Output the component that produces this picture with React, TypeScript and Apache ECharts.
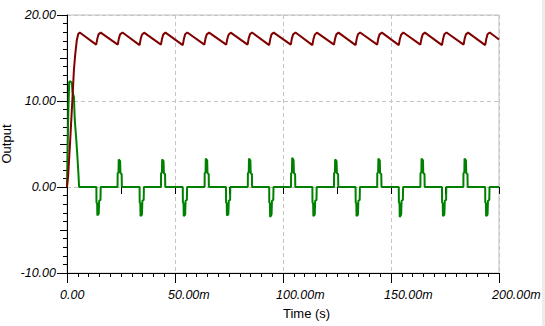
import React, { useEffect, useRef } from "react";
import * as echarts from "echarts";

// time in ms, output value
const X_TICKS_MS = [0, 50, 100, 150, 200];
const Y_TICKS = [-10, 0, 10, 20];

const redSeries: [number, number][] = [
  [0, 0], [0.5, 1.2], [1.5, 5.5], [2.5, 10.2], [3.2, 13.6], [3.8, 15.4], [4.5, 17.0], [5.2, 17.8], [5.9, 17.97],
  [13.5, 16.55], [14.0, 17.2], [14.6, 17.75], [15.6, 17.95],
  [23.5, 16.55], [24.0, 17.25], [24.6, 17.75], [25.7, 17.96],
  [33.6, 16.5], [34.1, 17.2], [34.7, 17.7], [35.7, 17.95],
  [43.5, 16.55], [44.0, 17.25], [44.6, 17.75], [45.6, 17.95],
  [53.6, 16.5], [54.1, 17.2], [54.7, 17.75], [55.7, 17.96],
  [63.6, 16.55], [64.1, 17.25], [64.7, 17.75], [65.8, 17.95],
  [73.7, 16.55], [74.2, 17.2], [74.8, 17.7], [75.8, 17.95],
  [83.6, 16.55], [84.1, 17.25], [84.7, 17.75], [85.7, 17.96],
  [93.6, 16.5], [94.1, 17.2], [94.7, 17.75], [95.7, 17.95],
  [103.6, 16.55], [104.1, 17.25], [104.7, 17.75], [105.8, 17.96],
  [113.6, 16.5], [114.1, 17.2], [114.7, 17.7], [115.7, 17.95],
  [123.6, 16.55], [124.1, 17.25], [124.7, 17.75], [125.7, 17.95],
  [133.6, 16.5], [134.1, 17.2], [134.7, 17.75], [135.7, 17.96],
  [143.6, 16.55], [144.1, 17.25], [144.7, 17.75], [145.8, 17.95],
  [153.6, 16.5], [154.1, 17.2], [154.7, 17.7], [155.7, 17.96],
  [163.6, 16.55], [164.1, 17.25], [164.7, 17.75], [165.7, 17.95],
  [173.6, 16.5], [174.1, 17.2], [174.7, 17.75], [175.7, 17.96],
  [183.6, 16.55], [184.1, 17.25], [184.7, 17.75], [185.7, 17.95],
  [193.6, 16.5], [194.1, 17.2], [194.7, 17.75], [195.7, 17.96],
  [200, 17.15],
];

const greenSeries: [number, number][] = [
  [0, 0], [0.2, 3.0], [0.6, 8.5], [1.0, 12.2], [1.5, 12.3], [2.2, 12.1], [2.6, 11.0], [3.2, 10.5],
  [3.6, 7.8], [4.3, 5.5], [4.8, 3.6], [5.3, 1.5], [5.6, 0],
  [13.6, 0], [13.65, -1.8], [13.95, -1.9], [14.05, -3.3], [14.7, -3.1], [14.9, -1.6], [15.5, -1.5], [15.6, 0],
  [23.4, 0], [23.45, 1.6], [23.85, 1.7], [23.95, 3.2], [24.6, 3.0], [24.75, 1.6], [25.3, 1.5], [25.4, 0],
  [33.6, 0], [33.65, -1.8], [33.95, -1.9], [34.05, -3.4], [34.7, -3.2], [34.9, -1.6], [35.5, -1.5], [35.6, 0],
  [43.5, 0], [43.55, 1.6], [43.95, 1.7], [44.05, 3.2], [44.7, 3.0], [44.85, 1.6], [45.4, 1.5], [45.5, 0],
  [53.6, 0], [53.65, -1.8], [53.95, -1.9], [54.05, -3.4], [54.7, -3.2], [54.9, -1.6], [55.5, -1.5], [55.6, 0],
  [63.7, 0], [63.75, 1.6], [64.15, 1.7], [64.25, 3.3], [64.9, 3.1], [65.05, 1.6], [65.6, 1.5], [65.7, 0],
  [73.6, 0], [73.65, -1.8], [73.95, -1.9], [74.05, -3.3], [74.7, -3.2], [74.9, -1.6], [75.5, -1.5], [75.6, 0],
  [83.7, 0], [83.75, 1.6], [84.15, 1.7], [84.25, 3.3], [84.9, 3.1], [85.05, 1.6], [85.6, 1.5], [85.7, 0],
  [93.6, 0], [93.65, -1.8], [93.95, -1.9], [94.05, -3.5], [94.7, -3.2], [94.9, -1.6], [95.5, -1.5], [95.6, 0],
  [103.7, 0], [103.75, 1.6], [104.15, 1.7], [104.25, 3.4], [104.9, 3.1], [105.05, 1.6], [105.6, 1.5], [105.7, 0],
  [113.6, 0], [113.65, -1.8], [113.95, -1.9], [114.05, -3.4], [114.7, -3.2], [114.9, -1.6], [115.5, -1.5], [115.6, 0],
  [123.6, 0], [123.65, 1.6], [124.05, 1.7], [124.15, 3.2], [124.8, 3.0], [124.95, 1.6], [125.5, 1.5], [125.6, 0],
  [133.6, 0], [133.65, -1.8], [133.95, -1.9], [134.05, -3.4], [134.7, -3.2], [134.9, -1.6], [135.5, -1.5], [135.6, 0],
  [143.6, 0], [143.65, 1.6], [144.05, 1.7], [144.15, 3.3], [144.8, 3.1], [144.95, 1.6], [145.5, 1.5], [145.6, 0],
  [153.6, 0], [153.65, -1.8], [153.95, -1.9], [154.05, -3.5], [154.7, -3.2], [154.9, -1.6], [155.5, -1.5], [155.6, 0],
  [163.6, 0], [163.65, 1.6], [164.05, 1.7], [164.15, 3.3], [164.8, 3.1], [164.95, 1.6], [165.5, 1.5], [165.6, 0],
  [173.6, 0], [173.65, -1.8], [173.95, -1.9], [174.05, -3.4], [174.7, -3.2], [174.9, -1.6], [175.5, -1.5], [175.6, 0],
  [183.5, 0], [183.55, 1.6], [183.95, 1.7], [184.05, 3.3], [184.7, 3.1], [184.85, 1.6], [185.4, 1.5], [185.5, 0],
  [193.6, 0], [193.65, -1.8], [193.95, -1.9], [194.05, -3.4], [194.7, -3.2], [194.9, -1.6], [195.5, -1.5], [195.6, 0],
  [200, 0],
];

const X_NAME = "Time (s)";
const Y_NAME = "Output";

const FONT = "'Liberation Sans', Arial, sans-serif";

function fmtX(v: number): string {
  return v === 0 ? "0.00" : `${v.toFixed(2)}m`;
}

export default function App() {
  const ref = useRef<HTMLDivElement>(null);
  useEffect(() => {
    if (!ref.current) return;
    const chart = echarts.init(ref.current, undefined, { renderer: "svg" });
    const xMin = X_TICKS_MS[0];
    const xMax = X_TICKS_MS[X_TICKS_MS.length - 1];
    const xInt = X_TICKS_MS[1] - X_TICKS_MS[0];
    const yMin = Y_TICKS[0];
    const yMax = Y_TICKS[Y_TICKS.length - 1];
    const yInt = Y_TICKS[1] - Y_TICKS[0];
    const labelStyle = {
      color: "#000",
      fontFamily: FONT,
      fontSize: 12.5,
      fontStyle: "italic" as const,
    };
    chart.setOption({
      animation: false,
      backgroundColor: "#fff",
      grid: {
        left: 67,
        right: 46,
        top: 15,
        bottom: 53,
        containLabel: false,
        outerBoundsMode: "none",
        show: true,
        borderColor: "#c0c0c0",
        borderWidth: 1,
        backgroundColor: "transparent",
      },
      graphic: [
        {
          type: "rect",
          shape: { x: 542, y: 0, width: 3, height: 326 },
          style: { fill: "#ececec" },
          silent: true,
        },
      ],
      xAxis: [
        {
          type: "value",
          min: xMin,
          max: xMax,
          interval: xInt,
          position: "bottom",
          name: X_NAME,
          nameLocation: "middle",
          nameGap: 34,
          nameMoveOverlap: false,
          nameTextStyle: {
            color: "#000",
            fontFamily: FONT,
            fontSize: 13,
            align: "left",
          },
          axisLine: { show: true, onZero: false, lineStyle: { color: "#000", width: 1 } },
          axisTick: { show: true, inside: false, length: 10, lineStyle: { color: "#000" } },
          minorTick: { show: true, splitNumber: 10, length: 4, lineStyle: { color: "#000" } },
          splitLine: {
            show: true,
            lineStyle: { color: "#c4c4c4", type: [4, 3], width: 1 },
          },
          axisLabel: {
            margin: 15,
            align: "right",
            hideOverlap: false,
            formatter: (v: number) => `{a|${fmtX(v)}}`,
            rich: { a: { ...labelStyle, width: 7, align: "left" } },
            ...labelStyle,
          },
        },
        {
          type: "value",
          min: xMin,
          max: xMax,
          interval: xInt / 2,
          position: "bottom",
          axisLine: { show: false },
          axisTick: { show: true, inside: false, length: 7, lineStyle: { color: "#000" } },
          axisLabel: { show: false },
          splitLine: { show: false },
        },
      ],
      yAxis: [
        {
          type: "value",
          min: yMin,
          max: yMax,
          interval: yInt,
          position: "left",
          name: Y_NAME,
          nameLocation: "middle",
          nameRotate: 90,
          nameGap: 54,
          nameMoveOverlap: false,
          nameTextStyle: { color: "#000", fontFamily: FONT, fontSize: 13 },
          axisLine: { show: true, onZero: false, lineStyle: { color: "#000", width: 1 } },
          axisTick: { show: true, inside: false, length: 10, lineStyle: { color: "#000" } },
          minorTick: { show: true, splitNumber: 10, length: 4, lineStyle: { color: "#000" } },
          splitLine: {
            show: true,
            lineStyle: { color: "#c4c4c4", type: [4, 3], width: 1 },
          },
          axisLabel: {
            margin: 11,
            hideOverlap: false,
            formatter: (v: number) => v.toFixed(2),
            ...labelStyle,
          },
        },
        {
          type: "value",
          min: yMin,
          max: yMax,
          interval: yInt / 2,
          position: "left",
          axisLine: { show: false },
          axisTick: { show: true, inside: false, length: 7, lineStyle: { color: "#000" } },
          axisLabel: { show: false },
          splitLine: { show: false },
        },
      ],
      series: [
        {
          type: "line",
          data: greenSeries,
          xAxisIndex: 0,
          yAxisIndex: 0,
          showSymbol: false,
          lineStyle: { color: "#008000", width: 2 },
          itemStyle: { color: "#008000" },
          silent: true,
        },
        {
          type: "line",
          data: redSeries,
          xAxisIndex: 0,
          yAxisIndex: 0,
          showSymbol: false,
          lineStyle: { color: "#800000", width: 2 },
          itemStyle: { color: "#800000" },
          silent: true,
        },
      ],
    });
    return () => chart.dispose();
  }, []);
  return (
    <div
      ref={ref}
      style={{ position: "fixed", left: 0, top: 0, width: 545, height: 326, background: "#fff" }}
    />
  );
}
